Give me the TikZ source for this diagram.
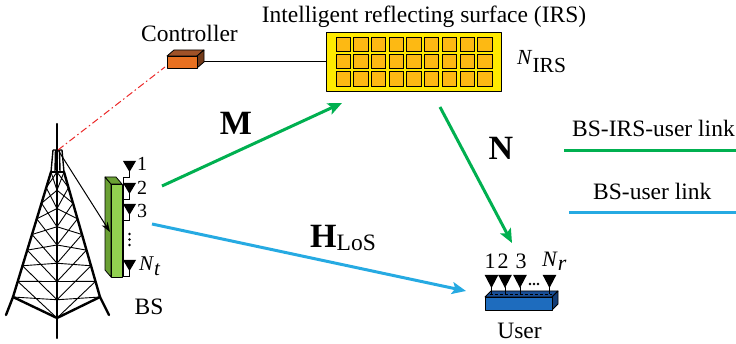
\documentclass[tikz,border=0pt]{standalone}
\usepackage{fontspec}
\setmainfont{Liberation Serif}
\usetikzlibrary{arrows.meta}

\definecolor{linkgreen}{RGB}{0,176,80}
\definecolor{linkblue}{RGB}{38,170,226}
\definecolor{ctrlred}{RGB}{235,40,40}
\definecolor{ctrlfront}{RGB}{232,112,32}
\definecolor{ctrltop}{RGB}{160,82,40}
\definecolor{ctrlside}{RGB}{115,58,25}
\definecolor{irsyellow}{RGB}{255,234,0}
\definecolor{irscell}{RGB}{253,185,19}
\definecolor{bsfront}{RGB}{146,208,80}
\definecolor{bsside}{RGB}{106,160,52}
\definecolor{userfront}{RGB}{30,108,190}
\definecolor{usertop}{RGB}{24,78,150}
\definecolor{userside}{RGB}{18,60,118}

\newcommand\fsz[1]{\fontsize{#1}{#1}\selectfont}

\tikzset{
  txt/.style={inner sep=0pt, font=\fsz{23.5}},
  bigsym/.style={inner sep=0pt, font=\fsz{34}\bfseries},
  idx/.style={inner sep=0pt, font=\fsz{20}},
  linkarrow/.style={line width=3pt, -{Stealth[length=14pt,width=12pt,inset=3pt]}},
  legendline/.style={line width=3pt},
  towerleg/.style={line width=2.4pt, line cap=round},
  lattice/.style={line width=0.9pt},
  antenna/.style={fill=black},
  feed/.style={line width=0.9pt},
  outline/.style={draw=black, line width=0.8pt, line join=round},
}

\begin{document}
\begin{tikzpicture}[x=1pt,y=-1pt]
\useasboundingbox (0,0) rectangle (736,344);

% ---------- base-station tower ----------
\coordinate (mastTop) at (57,124);
\coordinate (mastFeed) at (58,150);
\coordinate (mastFoot) at (57,338);
\draw[towerleg] (mastTop) -- (mastFoot);
% narrow top section
\draw[line width=1.4pt] (53,150) -- (51,172) (62,150) -- (64,172)
  (55.5,150) -- (55,172) (59.5,150) -- (60,172) (53,150) -- (62,150);
% legs
\draw[towerleg] (51,172) -- (13,297) -- (6,315);
\draw[towerleg] (64,172) -- (100,297) -- (109,315);
\draw[towerleg] (51,172) -- (64,172);
% base in perspective
\draw[towerleg] (13,297) -- (57,318) -- (100,297);
% lattice bracing
\foreach \k in {0,...,7}{
  \pgfmathsetmacro{\ya}{172+\k*125/8}
  \pgfmathsetmacro{\yb}{172+(\k+1)*125/8}
  \pgfmathsetmacro{\xla}{51-38*(\ya-172)/125}
  \pgfmathsetmacro{\xlb}{51-38*(\yb-172)/125}
  \pgfmathsetmacro{\xra}{64+36*(\ya-172)/125}
  \pgfmathsetmacro{\xrb}{64+36*(\yb-172)/125}
  \pgfmathsetmacro{\ma}{\ya+21*(\ya-172)/125}
  \pgfmathsetmacro{\mb}{\yb+21*(\yb-172)/125}
  \draw[lattice] (\xla,\ya) -- (57,\mb) (57,\ma) -- (\xlb,\yb)
                 (\xra,\ya) -- (57,\mb) (57,\ma) -- (\xrb,\yb);
}

% ---------- BS antenna array ----------
\fill[bsside, outline] (105,177) -- (111,184) -- (111,277) -- (105,270) -- cycle;
\fill[bsside, outline] (105,177) -- (116,177) -- (122,184) -- (111,184) -- cycle;
\node[fill=bsfront, outline, minimum width=11pt, minimum height=93pt,
      inner sep=0pt, anchor=north west] (bs) at (111,184) {};
\draw[feed] (123,177) -- (123,277);
\foreach \t in {161,183,204,260}{
  \fill[antenna] (123,\t) -- (136,\t) -- (129.5,\t+11) -- cycle;
  \draw[feed] (129.5,\t+10) -- (129.5,\t+16) -- (123,\t+16);
}
\foreach \d in {234,239.5,245} \fill (129.5,\d) circle (1.4pt);
\node[idx, anchor=base west] (bs1) at (137,171) {1};
\node[idx, anchor=base west] (bs2) at (137,195) {2};
\node[idx, anchor=base west] (bs3) at (137,218) {3};
\node[idx, anchor=base west, font=\fsz{21}] (bsnt) at (139,271)
  {\textit{N}\raisebox{-5pt}{\textit{t}}};
\node[txt, anchor=base] (bslabel) at (149,315) {BS};

% ---------- controller ----------
\fill[ctrltop, outline] (167,56) -- (174,50) -- (204,50) -- (197,56) -- cycle;
\fill[ctrlside, outline] (197,56) -- (204,50) -- (204,62) -- (197,68) -- cycle;
\node[fill=ctrlfront, outline, minimum width=30pt, minimum height=12pt,
      inner sep=0pt, anchor=north west] (ctrl) at (167,56) {};
\coordinate (ctrlPort) at (204,61.5);
\coordinate (ctrlIn) at (165,67);
\node[txt, anchor=base] (ctrllabel) at (189.5,42) {Controller};

% ---------- IRS ----------
\node[fill=irsyellow, outline, minimum width=175pt, minimum height=59pt,
      inner sep=0pt, anchor=north west] (irs) at (326,32) {};
\foreach \c in {0,...,8}
  \foreach \r in {0,...,2}
    \draw[fill=irscell, line width=0.8pt] (336+\c*17.7,37.3+\r*17.2)
      rectangle ++(14.3,14.3);
\node[txt, anchor=base] (irstitle) at (424,23) {Intelligent reflecting surface (IRS)};
\node[txt, anchor=base west, font=\fsz{21.5}] (nirs) at (517,65)
  {\textit{N}\raisebox{-8pt}{IRS}};

% ---------- user ----------
\fill[usertop, outline] (485,297) -- (491,291) -- (558,291) -- (552,297) -- cycle;
\fill[userside, outline] (552,297) -- (558,291) -- (558,304) -- (552,310) -- cycle;
\node[fill=userfront, outline, minimum width=67pt, minimum height=13pt,
      inner sep=0pt, anchor=north west] (user) at (485,297) {};
\draw[dashed, line width=0.7pt, dash pattern=on 3pt off 2pt] (490,294) -- (552,294);
\foreach \x in {491.5,505,520,549.5}{
  \fill[antenna] (\x-6.8,275) -- (\x+6.8,275) -- (\x,288) -- cycle;
  \draw[feed] (\x,287) -- (\x,294);
}
\foreach \x in {530,534,538} \fill (\x,284) circle (1.4pt);
\node[txt, anchor=base, font=\fsz{22}] (us1) at (490,269) {1};
\node[txt, anchor=base, font=\fsz{22}] (us2) at (503,269) {2};
\node[txt, anchor=base, font=\fsz{22}] (us3) at (521,269) {3};
\node[txt, anchor=base west, font=\fsz{22}] (usnr) at (542,267)
  {\textit{N}\raisebox{-4pt}{\textit{r}}};
\node[txt, anchor=base] (userlabel) at (519.5,339) {User};

% ---------- links ----------
\coordinate (feedTip) at (110,232);
\draw[line width=1pt, -{Stealth[length=10pt,width=7pt]}] (mastFeed) -- (feedTip);
\draw[ctrlred, line width=1pt, dash pattern=on 7pt off 3pt on 1.5pt off 3pt]
  (mastFeed) -- (ctrlIn);
\draw[line width=0.9pt] (ctrlPort) -- (irs.west |- ctrlPort);

\coordinate (mS) at (162,186);
\coordinate (mE) at (342,103);
\coordinate (nS) at (440,107);
\coordinate (nE) at (512,243);
\coordinate (hS) at (152,224);
\coordinate (hE) at (466,291);
\draw[linkgreen, linkarrow] (mS) -- (mE);
\draw[linkgreen, linkarrow] (nS) -- (nE);
\draw[linkblue, linkarrow] (hS) -- (hE);
\node[bigsym, anchor=base] (mlabel) at (236,135) {M};
\node[bigsym, anchor=base] (nlabel) at (501,160) {N};
\node[bigsym, anchor=base west] (hlabel) at (310,248)
  {H\raisebox{-3pt}{\fsz{23.5}\mdseries LoS}};

% ---------- legend ----------
\node[txt, anchor=base west] (leg1) at (572,137) {BS-IRS-user link};
\node[txt, anchor=base west] (leg2) at (593,200) {BS-user link};
\coordinate (lg1a) at (564,151);
\coordinate (lg1b) at (736,151);
\coordinate (lg2a) at (569,213);
\coordinate (lg2b) at (736,213);
\draw[linkgreen, legendline] (lg1a) -- (lg1b);
\draw[linkblue, legendline] (lg2a) -- (lg2b);
\end{tikzpicture}
\end{document}
